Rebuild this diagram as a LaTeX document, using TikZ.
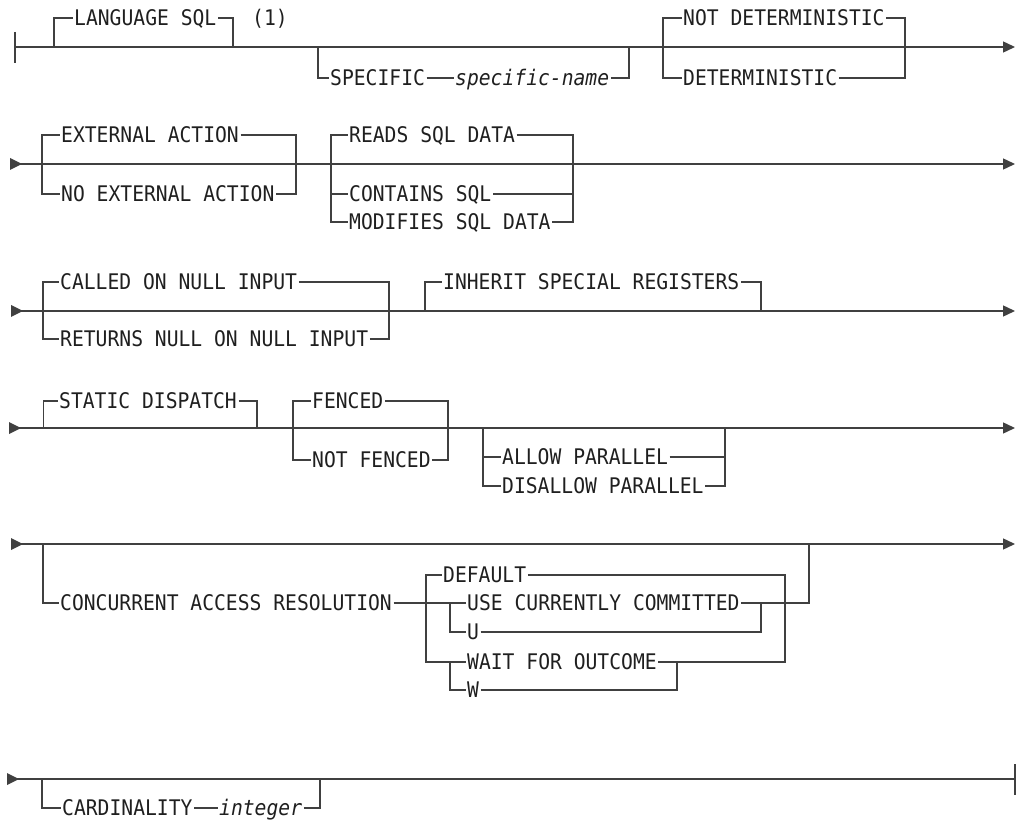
\documentclass[tikz,border=0pt]{standalone}
\usepackage{fontspec}
\newfontfamily\rrfont[FakeStretch=0.915]{DejaVu Sans Mono}
\usetikzlibrary{arrows.meta}
\tikzset{
  rail/.style={line width=1.4pt,draw=black!75},
  kw/.style={font=\rrfont\fontsize{21.5}{22}\selectfont,text=black!88,inner sep=0pt,inner xsep=1.5pt,text height=15.6pt,text depth=0pt,anchor=west},
  var/.style={kw,font=\rrfont\itshape\fontsize{21.5}{22}\selectfont},
  endarrow/.style={-{Triangle[length=12pt,width=11pt]}},
  startarrow/.pic={\fill[black!75] (0,-6) -- (12,0) -- (0,6) -- cycle;}
}
\begin{document}
\begin{tikzpicture}[x=1pt,y=-1pt]
\useasboundingbox (0,0) rectangle (1021,821);
% ---------- Row 1
\coordinate (r1s) at (15,47); \coordinate (r1e) at (1015,47);
\coordinate (b1t) at (15,32); \coordinate (b1b) at (15,63);
\draw[rail] (b1t) -- (b1b);
\draw[rail,endarrow] (r1s) -- (r1e);
\coordinate (a1) at (54,47); \coordinate (a2) at (233,47);
\node[kw] (lang) at (72.5,18) {LANGUAGE SQL};
\draw[rail] (a1) |- (lang.west); \draw[rail] (lang.east) -| (a2);
\node[kw] (n1) at (250.5,18) {(1)};
\coordinate (a3) at (318,47); \coordinate (a4) at (629,47);
\node[kw] (spec) at (328.5,78) {SPECIFIC};
\node[var] (specn) at (453.5,78) {specific-name};
\draw[rail] (a3) |- (spec.west); \draw[rail] (spec) -- (specn); \draw[rail] (specn.east) -| (a4);
\coordinate (a5) at (663,47); \coordinate (a6) at (905,47);
\node[kw] (notdet) at (681.5,18) {NOT DETERMINISTIC};
\node[kw] (det) at (681.5,78) {DETERMINISTIC};
\draw[rail] (a5) |- (notdet.west); \draw[rail] (notdet.east) -| (a6);
\draw[rail] (a5) |- (det.west); \draw[rail] (det.east) -| (a6);
% ---------- Row 2
\coordinate (r2s) at (10,164); \coordinate (r2e) at (1015,164);
\pic at (r2s) {startarrow};
\draw[rail,endarrow] (r2s) -- (r2e);
\coordinate (a7) at (42,164); \coordinate (a8) at (296,164);
\node[kw] (ext) at (59.5,135) {EXTERNAL ACTION};
\node[kw] (noext) at (59.5,194) {NO EXTERNAL ACTION};
\draw[rail] (a7) |- (ext.west); \draw[rail] (ext.east) -| (a8);
\draw[rail] (a7) |- (noext.west); \draw[rail] (noext.east) -| (a8);
\coordinate (a9) at (331,164); \coordinate (a10) at (573,164);
\node[kw] (reads) at (347.5,135) {READS SQL DATA};
\node[kw] (contains) at (347.5,194) {CONTAINS SQL};
\node[kw] (modifies) at (347.5,222) {MODIFIES SQL DATA};
\draw[rail] (a9) |- (reads.west); \draw[rail] (reads.east) -| (a10);
\draw[rail] (a9) |- (contains.west); \draw[rail] (contains.east) -| (a10);
\draw[rail] (a9) |- (modifies.west); \draw[rail] (modifies.east) -| (a10);
% ---------- Row 3
\coordinate (r3s) at (11,311); \coordinate (r3e) at (1015,311);
\pic at (r3s) {startarrow};
\draw[rail,endarrow] (r3s) -- (r3e);
\coordinate (a11) at (43,311); \coordinate (a12) at (389,311);
\node[kw] (called) at (58.5,282) {CALLED ON NULL INPUT};
\node[kw] (returns) at (58.5,339) {RETURNS NULL ON NULL INPUT};
\draw[rail] (a11) |- (called.west); \draw[rail] (called.east) -| (a12);
\draw[rail] (a11) |- (returns.west); \draw[rail] (returns.east) -| (a12);
\coordinate (a13) at (425,311); \coordinate (a14) at (761,311);
\node[kw] (inherit) at (441.5,282) {INHERIT SPECIAL REGISTERS};
\draw[rail] (a13) |- (inherit.west); \draw[rail] (inherit.east) -| (a14);
% ---------- Row 4
\coordinate (r4s) at (9,428); \coordinate (r4e) at (1015,428);
\pic at (r4s) {startarrow};
\draw[rail,endarrow] (r4s) -- (r4e);
\coordinate (a15) at (43.5,428); \coordinate (a16) at (257,428);
\node[kw] (static) at (57.5,401) {STATIC DISPATCH};
\draw[rail] (a15) |- (static.west); \draw[rail] (static.east) -| (a16);
\coordinate (a17) at (293,428); \coordinate (a18) at (448,428);
\node[kw] (fenced) at (310.5,401) {FENCED};
\node[kw] (notfenced) at (310.5,460) {NOT FENCED};
\draw[rail] (a17) |- (fenced.west); \draw[rail] (fenced.east) -| (a18);
\draw[rail] (a17) |- (notfenced.west); \draw[rail] (notfenced.east) -| (a18);
\coordinate (a19) at (483,428); \coordinate (a20) at (725,428);
\node[kw] (allow) at (500.5,457) {ALLOW PARALLEL};
\node[kw] (disallow) at (500.5,486) {DISALLOW PARALLEL};
\draw[rail] (a19) |- (allow.west); \draw[rail] (allow.east) -| (a20);
\draw[rail] (a19) |- (disallow.west); \draw[rail] (disallow.east) -| (a20);
% ---------- Row 5
\coordinate (r5s) at (11,544); \coordinate (r5e) at (1015,544);
\pic at (r5s) {startarrow};
\draw[rail,endarrow] (r5s) -- (r5e);
\coordinate (a21) at (43,544); \coordinate (a22) at (809,544);
\node[kw] (conc) at (58.5,603) {CONCURRENT ACCESS RESOLUTION};
\node[kw] (default) at (441.5,575) {DEFAULT};
\node[kw] (usecc) at (465.5,603) {USE CURRENTLY COMMITTED};
\node[kw] (u) at (465.5,632) {U};
\node[kw] (wait) at (465.5,662) {WAIT FOR OUTCOME};
\node[kw] (w) at (465.5,690) {W};
\coordinate (c1) at (426,603); \coordinate (c2) at (450,603);
\coordinate (c3) at (450,662); \coordinate (c4) at (761,603);
\coordinate (c5) at (677,662); \coordinate (c7) at (785,603);
\draw[rail] (a21) |- (conc.west);
\draw[rail] (conc.east) -- (usecc.west);
\draw[rail] (c1) |- (default.west);
\draw[rail] (c1) |- (wait.west);
\draw[rail] (c2) |- (u.west);
\draw[rail] (c3) |- (w.west);
\draw[rail] (u.east) -| (c4);
\draw[rail] (w.east) -| (c5);
\draw[rail] (default.east) -| (c7);
\draw[rail] (wait.east) -| (c7);
\draw[rail] (usecc.east) -| (a22);
% ---------- Row 6
\coordinate (r6s) at (7,779); \coordinate (r6e) at (1015,779);
\coordinate (b6t) at (1015,764); \coordinate (b6b) at (1015,795);
\pic at (r6s) {startarrow};
\draw[rail] (r6s) -- (r6e);
\draw[rail] (b6t) -- (b6b);
\coordinate (a23) at (42,779); \coordinate (a24) at (320,779);
\node[kw] (card) at (60.5,808) {CARDINALITY};
\node[var] (integer) at (217.5,808) {integer};
\draw[rail] (a23) |- (card.west); \draw[rail] (card) -- (integer); \draw[rail] (integer.east) -| (a24);
\end{tikzpicture}
\end{document}
